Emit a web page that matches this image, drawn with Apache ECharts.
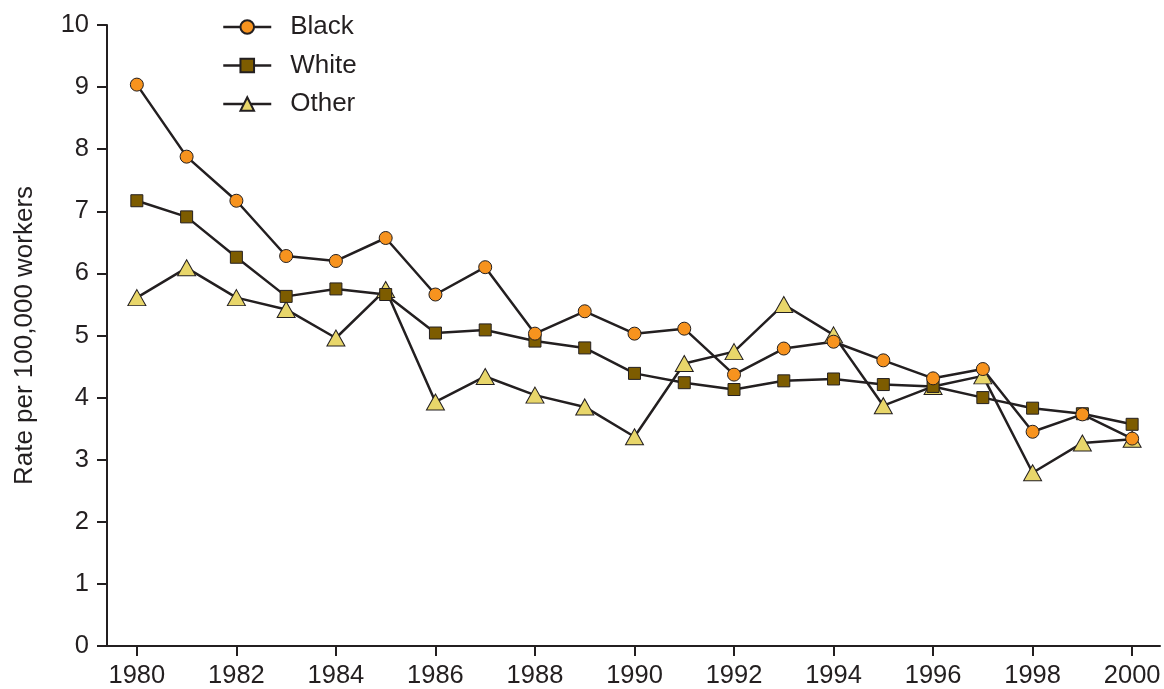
<!DOCTYPE html>
<html>
<head>
<meta charset="utf-8">
<script src="https://cdn.jsdelivr.net/npm/echarts@6/dist/echarts.min.js"></script>
<style>
html,body{margin:0;padding:0;background:#fff;}
#chart{width:1164px;height:689px;}
</style>
</head>
<body>
<div id="chart"></div>
<script>
const years = [1980,1981,1982,1983,1984,1985,1986,1987,1988,1989,1990,1991,1992,1993,1994,1995,1996,1997,1998,1999,2000];
const blackRates = [9.04,7.88,7.17,6.28,6.20,6.57,5.66,6.10,5.03,5.39,5.03,5.11,4.37,4.79,4.90,4.60,4.31,4.46,3.45,3.73,3.34];
const whiteRates = [7.17,6.91,6.26,5.63,5.75,5.66,5.04,5.09,4.91,4.80,4.39,4.24,4.13,4.27,4.30,4.21,4.18,4.00,3.83,3.74,3.57];
const otherRates = [5.61,6.09,5.61,5.42,4.96,5.74,3.93,4.34,4.04,3.85,3.37,4.55,4.74,5.50,5.01,3.87,4.18,4.35,2.79,3.27,3.33];
const xTickYears = [1980,1982,1984,1986,1988,1990,1992,1994,1996,1998,2000];
const yTicks = [0,1,2,3,4,5,6,7,8,9,10];

const ink = '#231F20';
const font = 'Liberation Sans, Arial, Helvetica, sans-serif';
function pairs(vals){ return years.map((y,i)=>[y, vals[i]]); }

const chart = echarts.init(document.getElementById('chart'), null, {renderer:'canvas'});
chart.setOption({
  animation:false,
  backgroundColor:'#fff',
  grid:{left:107, right:4, top:25, bottom:42, containLabel:false},
  legend:{
    orient:'vertical', left:222, top:14, padding:0,
    data:['Black','White','Other'],
    itemWidth:48, itemHeight:17, itemGap:12.5,
    lineStyle:{width:2.5, color:ink},
    textStyle:{fontFamily:font, fontSize:26, color:ink, lineHeight:26, padding:[0,0,0,14]}
  },
  xAxis:{
    type:'value', min:1979.4, max:2000.56,
    axisLine:{lineStyle:{color:ink, width:2}},
    axisTick:{show:true, length:10, lineStyle:{color:ink, width:2}, customValues:xTickYears},
    axisLabel:{fontFamily:font, fontSize:25.5, color:ink, margin:17, customValues:xTickYears, formatter:v=>String(v)},
    splitLine:{show:false}
  },
  yAxis:{
    type:'value', min:0, max:10, interval:1,
    name:'Rate per 100,000 workers', nameLocation:'middle', nameGap:69, nameRotate:90,
    nameTextStyle:{fontFamily:font, fontSize:26, color:ink},
    axisLine:{show:true, lineStyle:{color:ink, width:2}},
    axisTick:{show:true, length:10, lineStyle:{color:ink, width:2}},
    axisLabel:{fontFamily:font, fontSize:25.5, color:ink, margin:18, customValues:yTicks},
    splitLine:{show:false}
  },
  series:[
    {name:'Other', type:'line', data:pairs(otherRates), symbol:'triangle', symbolSize:[18,16],
     lineStyle:{color:ink, width:2.5}, itemStyle:{color:'#E8D66A', borderColor:ink, borderWidth:1}},
    {name:'White', type:'line', data:pairs(whiteRates), symbol:'rect', symbolSize:12,
     lineStyle:{color:ink, width:2.5}, itemStyle:{color:'#7D5C00', borderColor:ink, borderWidth:1}},
    {name:'Black', type:'line', data:pairs(blackRates), symbol:'circle', symbolSize:13,
     lineStyle:{color:ink, width:2.5}, itemStyle:{color:'#F7931E', borderColor:ink, borderWidth:1}}
  ]
});
</script>
</body>
</html>
